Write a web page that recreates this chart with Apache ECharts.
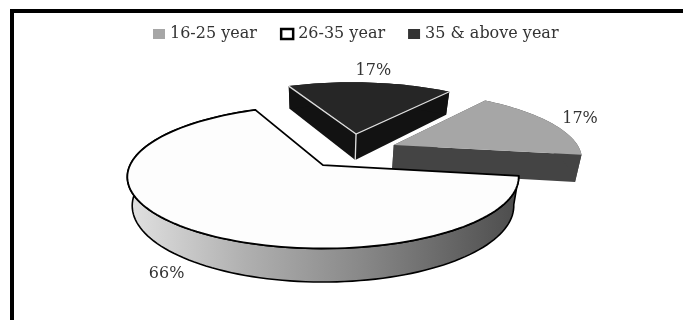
<!DOCTYPE html>
<html>
<head>
<meta charset="utf-8">
<style>html,body{margin:0;padding:0;background:#fff}#chart{width:683px;height:320px}</style>
<script src="https://cdn.jsdelivr.net/npm/echarts@6/dist/echarts.min.js"></script>
</head>
<body>
<div id="chart"></div>
<script>
// Age groups and their share of respondents, in percent
const categories = ['16-25 year', '26-35 year', '35 & above year'];
const shares = [17, 66, 17];

// Pie starts here (degrees, counter-clockwise from east) and runs clockwise
const START_ANGLE = 52.6;

// Tilted-disc projection: the unit disc maps onto an ellipse with a shifted centre
const view = { cx: 323, cy: 177, R: 193, vScale: 71.5, vShift: 0.165, persp: 0.165, depth: 28, shrink: 0.025 };

// Appearance of each slice, in the same order as the categories
const sliceLooks = [
  { z: 1, top: '#a6a6a6', wall: '#444444', edge: null, offset: [0.385, 0.305], labelR: 1.2, labelZ: 0,
    legend: { color: '#a6a6a6' } },
  { z: 3, top: '#fdfdfd', wall: null, edge: '#000000', offset: [0, 0], labelR: 1.16, labelZ: 1.0,
    legend: { color: '#ffffff', borderColor: '#000000', borderWidth: 2.5 } },
  { z: 2, top: '#262626', wall: '#121212', edge: '#dddddd', offset: [0.185, 0.485], labelR: 1.28, labelZ: 0,
    legend: { color: '#333333' } }
];

const sideGradient = new echarts.graphic.LinearGradient(0, 0, 1, 0, [
  { offset: 0, color: '#e2e2e2' },
  { offset: 0.3, color: '#b0b0b0' },
  { offset: 0.6, color: '#888888' },
  { offset: 1, color: '#4c4c4c' }
]);

function project(X, Y, z) {
  const p = 1 + view.persp * Y;
  return [
    view.cx + view.R * X / p * (1 - view.shrink * z),
    view.cy - view.vScale * (Y + view.vShift) / p + view.depth * z / p
  ];
}

function renderSlice(index, value) {
  const look = sliceLooks[index];
  const total = shares.reduce((a, b) => a + b, 0);
  const before = shares.slice(0, index).reduce((a, b) => a + b, 0);
  const from = START_ANGLE - before / total * 360;
  const to = from - value / total * 360;
  const [ox, oy] = look.offset;
  const rim = z => {
    const pts = [];
    const steps = Math.ceil((from - to) / 2);
    for (let i = 0; i <= steps; i++) {
      const a = (from + (to - from) * i / steps) * Math.PI / 180;
      pts.push(project(ox + Math.cos(a), oy + Math.sin(a), z));
    }
    return pts;
  };
  const hub = z => project(ox, oy, z);
  const rimTop = rim(0);
  const rimBottom = rim(1);
  const children = [];
  const wallFill = look.wall || sideGradient;
  const wallStroke = look.wall ? null : look.edge;

  // Flat cut faces on either side of the slice
  [[rimTop[0], rimBottom[0]], [rimTop[rimTop.length - 1], rimBottom[rimBottom.length - 1]]].forEach(([t, b]) => {
    children.push({
      type: 'polygon',
      shape: { points: [hub(0), t, b, hub(1)] },
      style: { fill: look.wall || '#555555', stroke: null }
    });
  });
  // Curved outer wall
  children.push({
    type: 'polygon',
    shape: { points: rimTop.concat(rimBottom.slice().reverse()) },
    style: { fill: wallFill, stroke: wallStroke, lineWidth: 1.6 }
  });
  // Top face
  children.push({
    type: 'polygon',
    shape: { points: [hub(0)].concat(rimTop) },
    style: { fill: look.top, stroke: look.wall ? null : look.edge, lineWidth: 1.8, lineJoin: 'miter' }
  });
  // Light edges around the exploded dark wedge
  if (look.wall && look.edge) {
    children.push({
      type: 'polyline',
      shape: { points: [rimTop[0], hub(0), rimTop[rimTop.length - 1]] },
      style: { fill: null, stroke: look.edge, lineWidth: 1.3 }
    });
    children.push({
      type: 'polyline',
      shape: { points: [hub(0), hub(1)] },
      style: { fill: null, stroke: look.edge, lineWidth: 1.3 }
    });
  }
  // Percentage label
  const mid = (from + to) / 2 * Math.PI / 180;
  const at = project(ox + look.labelR * Math.cos(mid), oy + look.labelR * Math.sin(mid), look.labelZ);
  children.push({
    type: 'text',
    z2: 10,
    style: {
      x: at[0], y: at[1], text: value + '%', align: 'center', verticalAlign: 'middle',
      font: '16px "DejaVu Serif"', fill: '#333333'
    }
  });
  return { type: 'group', children };
}

const chart = echarts.init(document.getElementById('chart'), null, { renderer: 'canvas' });
chart.setOption({
  animation: false,
  backgroundColor: '#ffffff',
  legend: {
    left: 153,
    top: 26,
    padding: 0,
    itemWidth: 12,
    itemHeight: 10,
    itemGap: 23,
    icon: 'rect',
    selectedMode: false,
    textStyle: { fontFamily: 'DejaVu Serif', fontSize: 16, color: '#333333' },
    data: categories.map((name, i) => ({ name, icon: 'rect', itemStyle: sliceLooks[i].legend }))
  },
  graphic: [
    { type: 'rect', shape: { x: 10, y: 9, width: 673, height: 4 }, style: { fill: '#000000' } },
    { type: 'rect', shape: { x: 10, y: 9, width: 4, height: 311 }, style: { fill: '#000000' } }
  ],
  series: categories.map((name, i) => ({
    type: 'custom',
    name,
    coordinateSystem: 'none',
    z: sliceLooks[i].z,
    silent: true,
    itemStyle: { color: sliceLooks[i].legend.color },
    data: [[shares[i]]],
    renderItem: (params, api) => renderSlice(i, api.value(0))
  }))
});
</script>
</body>
</html>
